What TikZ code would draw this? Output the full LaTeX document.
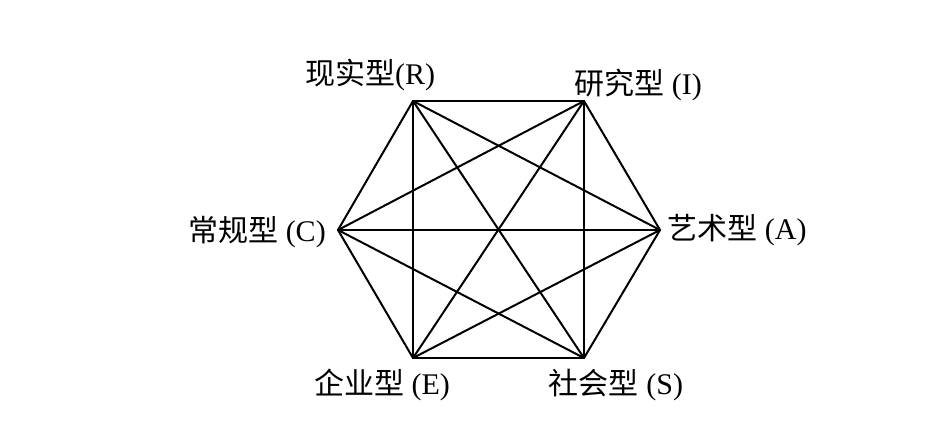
\documentclass[tikz,border=0pt]{standalone}
\usepackage{fontspec}
\setmainfont{Liberation Serif}
\newfontfamily\cjk{Noto Sans CJK SC}
\begin{document}
\begin{tikzpicture}[x=1pt,y=-1pt,
  edge/.style={line width=2pt,line cap=round,line join=round},
  lbl/.style={font=\fontsize{30}{33}\selectfont,inner sep=0pt,anchor=center}]
\useasboundingbox[fill=white] (0,0) rectangle (949,432);
\coordinate (R) at (413,101);
\coordinate (I) at (584,101);
\coordinate (A) at (660,230);
\coordinate (S) at (584,358);
\coordinate (E) at (413,358);
\coordinate (C) at (338,230);
\foreach \a/\b in {R/I,R/A,R/S,R/E,R/C,I/A,I/S,I/E,I/C,A/S,A/E,A/C,S/E,S/C,E/C}
  \draw[edge] (\a) -- (\b);
\node[lbl] (lR) at (370,75) {{\cjk 现实型}(R)};
\node[lbl] (lI) at (638,85) {{\cjk 研究型} (I)};
\node[lbl] (lC) at (257,232) {{\cjk 常规型} (C)};
\node[lbl] (lA) at (737,230) {{\cjk 艺术型} (A)};
\node[lbl] (lE) at (382,385) {{\cjk 企业型} (E)};
\node[lbl] (lS) at (616,385) {{\cjk 社会型} (S)};
\end{tikzpicture}
\end{document}
